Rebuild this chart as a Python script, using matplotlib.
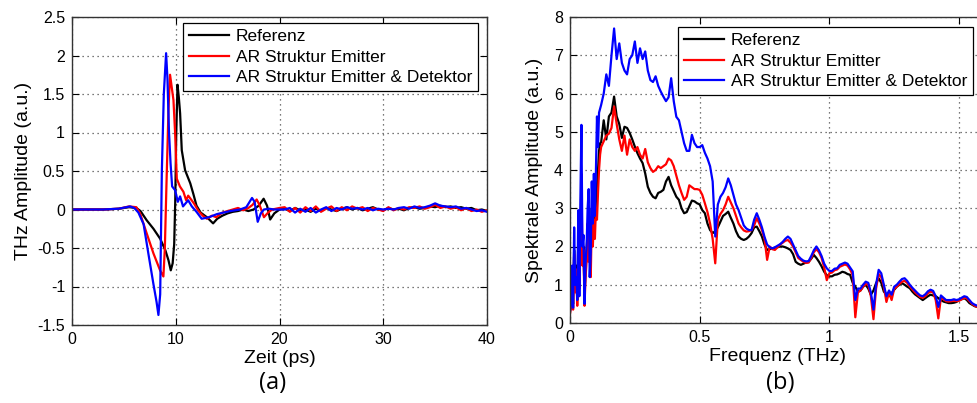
import numpy as np
import matplotlib.pyplot as plt

# ---------------- (a) THz-Zeitsignale ----------------
zeit_ref = [0, 3, 4.5, 5.5, 6.2, 6.6, 7.2, 7.85, 8.5, 9.0, 9.3, 9.52, 9.7, 9.85, 9.95,
            10.05, 10.17, 10.3, 10.42, 10.58, 10.9, 11.4, 11.7, 12.0, 12.4, 13.0, 13.6,
            14.0, 14.5, 15.0, 15.5, 16.0, 16.5, 17.0, 17.5, 18.0, 18.47, 18.8, 19.1, 19.5, 20.0]
amp_ref = [0, 0, 0.01, 0.03, 0.02, -0.02, -0.14, -0.25, -0.38, -0.53, -0.66, -0.79, -0.7, -0.45, 0.1,
           1.0, 1.62, 1.45, 1.25, 0.77, 0.51, 0.34, 0.2, 0.05, -0.04, -0.1, -0.18,
           -0.12, -0.08, -0.05, -0.03, -0.02, 0.0, -0.02, 0.0, 0.05, 0.14, 0.05, -0.13, -0.05, 0.0]

zeit_em = [0, 3, 4.5, 5.5, 6.2, 6.56, 7.2, 7.85, 8.49, 8.81, 8.95, 9.1, 9.3, 9.45, 9.78,
           9.94, 10.1, 10.4, 10.74, 11.0, 11.2, 11.75, 12.2, 12.6, 13.0, 13.5, 13.9,
           14.5, 15.0, 15.5, 16.0, 16.5, 17.0, 17.4, 17.8, 18.1, 18.5, 18.9, 19.3, 20.0]
amp_em = [0, 0, 0.01, 0.04, 0.03, -0.05, -0.31, -0.57, -0.79, -0.87, -0.5, 0.3, 1.3, 1.75, 1.42,
          0.99, 0.4, 0.3, 0.23, 0.12, 0.18, 0.08, -0.02, -0.08, -0.12, -0.08, -0.1,
          -0.04, -0.02, 0.0, 0.02, -0.01, 0.02, 0.06, 0.13, 0.05, -0.1, -0.04, 0.0, 0.02]

zeit_ed = [0, 3, 4.5, 5.6, 6.0, 6.4, 6.9, 7.37, 7.85, 8.15, 8.33, 8.5, 8.66, 8.85, 9.07,
           9.2, 9.35, 9.5, 9.65, 9.94, 10.2, 10.42, 10.7, 11.2, 11.55, 12.0, 12.5,
           13.2, 13.97, 14.6, 15.25, 16.2, 16.8, 17.35, 17.6, 17.9, 18.2, 18.5, 19.0, 19.5, 20.0]
amp_ed = [0, 0, 0.01, 0.04, 0.02, -0.04, -0.19, -0.58, -0.97, -1.2, -1.37, -1.1, 0.5, 1.5, 2.03,
          1.7, 1.0, 0.6, 0.3, 0.25, 0.1, 0.17, 0.04, 0.12, 0.04, -0.03, -0.12,
          -0.1, -0.06, -0.04, -0.02, 0.0, 0.03, 0.15, 0.1, -0.16, -0.05, 0.0, 0.01, 0.0, 0.0]

# Ausklingen 20.5 ... 40 ps (alle 0.5 ps)
zeit_rest = np.arange(20.5, 40.01, 0.5)
rest_ref = [0.01, -0.02, 0.02, -0.01, 0.0, -0.03, 0.01, -0.02, 0.02, 0.0,
            -0.02, 0.01, 0.03, 0.0, 0.02, -0.01, 0.01, 0.03, 0.0, -0.01,
            0.02, 0.0, 0.01, -0.01, 0.02, 0.03, 0.01, 0.02, 0.04, 0.03,
            0.05, 0.03, 0.04, 0.02, 0.03, 0.01, 0.02, -0.01, 0.0, -0.02]
rest_em = [0.03, -0.03, 0.02, -0.04, 0.03, -0.02, 0.04, -0.03, 0.01, 0.04,
           -0.02, 0.03, -0.01, 0.04, 0.01, 0.03, -0.02, 0.02, 0.0, -0.02,
           0.03, -0.01, 0.02, 0.0, 0.03, 0.02, 0.04, 0.01, 0.03, 0.06,
           0.02, 0.04, 0.01, 0.03, -0.01, 0.02, -0.02, 0.0, -0.03, -0.01]
rest_ed = [0.0, 0.02, -0.04, 0.01, -0.03, 0.02, -0.04, 0.0, 0.03, -0.02,
           0.02, 0.0, 0.03, 0.01, 0.02, 0.0, 0.02, -0.01, 0.01, 0.0,
           0.01, 0.0, 0.02, 0.03, 0.01, 0.04, 0.02, 0.03, 0.05, 0.08,
           0.05, 0.04, 0.03, 0.04, 0.01, 0.02, 0.0, -0.02, -0.01, -0.03]

# ---------------- (b) Spektren ----------------
frequenz = np.concatenate([np.arange(30) * 0.004, 0.12 + np.arange(149) * 0.01])

spek_ref = [
    1.0, 0.6, 1.3, 0.5, 1.9, 0.9, 1.5, 0.6, 2.2, 1.0,
    2.3, 3.0, 1.8, 2.0, 0.7, 1.4, 1.9, 2.5, 1.8, 2.6,
    2.0, 3.0, 2.4, 3.47, 2.7, 3.2, 3.6, 4.0, 4.5, 4.7,
    4.72, 5.3, 4.8, 5.4, 5.5, 5.92, 5.4, 5.2, 4.84, 5.13,   # 0.12-0.21
    5.1, 4.97, 4.8, 4.61, 4.44, 4.3, 4.18, 3.91, 3.56, 3.4,
    3.3, 3.26, 3.4, 3.43, 3.48, 3.7, 3.82, 3.6, 3.45, 3.3,
    3.22, 3.0, 2.87, 2.9, 3.05, 3.2, 3.18, 3.13, 3.1, 2.95,
    2.87, 2.6, 2.43, 2.35, 2.4, 2.5, 2.65, 2.8, 2.85, 2.91,  # 0.52-0.61
    2.75, 2.6, 2.4, 2.26, 2.2, 2.17, 2.2, 2.26, 2.35, 2.5,
    2.52, 2.4, 2.26, 2.05, 1.91, 1.93, 1.95, 1.97, 1.98, 2.0,
    2.0, 1.98, 1.95, 1.91, 1.8, 1.6, 1.55, 1.52, 1.55, 1.58,
    1.6, 1.68, 1.78, 1.7, 1.6, 1.48, 1.34, 1.25, 1.22, 1.22,  # 0.92-1.01
    1.26, 1.27, 1.3, 1.34, 1.32, 1.28, 1.26, 1.05, 0.95, 0.82,
    0.85, 0.95, 1.0, 0.9, 0.74, 0.85, 1.04, 1.17, 1.05, 0.82,
    0.75, 0.7, 0.78, 0.87, 0.95, 1.0, 1.04, 1.0, 0.95, 0.91,
    0.82, 0.75, 0.7, 0.65, 0.6, 0.65, 0.7, 0.74, 0.72, 0.7,
    0.65, 0.6, 0.56, 0.54, 0.52, 0.52, 0.53, 0.55, 0.6, 0.62,
    0.65, 0.6, 0.52, 0.48, 0.44, 0.42, 0.4, 0.38, 0.37]

spek_em = [
    0.25, 0.4, 1.2, 0.35, 1.8, 0.8, 1.4, 0.45, 1.6, 0.9,
    2.0, 3.9, 1.5, 1.9, 0.45, 1.2, 1.6, 2.6, 1.6, 2.3,
    1.2, 2.7, 2.0, 2.7, 2.2, 3.0, 2.7, 3.4, 4.0, 4.4,
    4.6, 4.75, 4.9, 4.95, 5.1, 5.66, 5.2, 4.8, 4.5, 4.9,
    4.4, 4.8, 4.6, 4.5, 4.6, 4.4, 4.3, 4.55, 4.2, 4.05,
    3.95, 4.0, 4.1, 4.05, 4.1, 4.15, 4.3, 4.25, 4.1, 3.85,
    3.6, 3.4, 3.22, 3.3, 3.6, 3.55, 3.5, 3.5, 3.48, 3.35,
    3.13, 2.9, 2.6, 2.2, 1.56, 2.7, 2.85, 2.95, 3.1, 3.3,
    3.15, 3.0, 2.8, 2.6, 2.5, 2.42, 2.39, 2.4, 2.43, 2.55,
    2.74, 2.6, 2.43, 2.2, 1.65, 2.0, 1.93, 1.91, 1.98, 2.05,
    2.1, 2.15, 2.17, 2.1, 2.0, 1.85, 1.7, 1.65, 1.6, 1.57,
    1.58, 1.7, 1.85, 1.93, 1.85, 1.7, 1.45, 1.12, 1.3, 1.32,
    1.38, 1.4, 1.47, 1.5, 1.53, 1.5, 1.4, 1.25, 0.15, 0.8,
    0.85, 0.95, 1.02, 1.0, 0.7, 0.1, 0.9, 1.28, 1.2, 0.95,
    0.55, 0.8, 0.6, 0.9, 0.95, 1.02, 1.08, 1.1, 1.05, 0.95,
    0.88, 0.8, 0.74, 0.68, 0.66, 0.7, 0.78, 0.82, 0.8, 0.6,
    0.12, 0.66, 0.62, 0.57, 0.56, 0.57, 0.58, 0.57, 0.58, 0.62,
    0.66, 0.64, 0.57, 0.5, 0.45, 0.42, 0.41, 0.4, 0.38]

spek_ed = [
    0.3, 0.5, 1.5, 0.4, 2.5, 1.0, 1.2, 0.6, 2.95, 0.7,
    3.2, 5.18, 2.0, 2.3, 0.5, 1.6, 2.0, 3.0, 3.5, 1.2,
    1.85, 3.7, 2.6, 3.9, 2.8, 4.0, 5.4, 4.6, 5.5, 5.6,
    5.7, 6.0, 6.5, 6.2, 7.0, 7.7, 6.9, 7.31, 6.8, 6.6,
    6.5, 6.9, 7.0, 7.36, 6.8, 7.18, 6.9, 7.1, 6.6, 6.35,
    6.3, 6.45, 6.2, 6.05, 5.92, 5.8, 5.9, 6.4, 5.8, 5.39,
    5.3, 5.0, 4.7, 4.5, 4.5, 4.92, 4.7, 4.6, 4.6, 4.65,
    4.45, 4.3, 4.1, 3.7, 2.26, 3.1, 3.3, 3.4, 3.55, 3.78,
    3.6, 3.35, 3.1, 2.95, 2.75, 2.55, 2.47, 2.43, 2.43, 2.7,
    2.87, 2.7, 2.5, 2.25, 2.05, 1.98, 1.95, 1.98, 2.02, 2.06,
    2.12, 2.2, 2.26, 2.2, 2.05, 1.9, 1.75, 1.68, 1.63, 1.61,
    1.62, 1.75, 1.9, 2.0, 1.9, 1.75, 1.55, 1.43, 1.36, 1.36,
    1.42, 1.43, 1.52, 1.55, 1.58, 1.55, 1.45, 1.35, 0.6, 0.9,
    0.9, 1.0, 1.08, 1.05, 0.8, 0.35, 1.0, 1.39, 1.3, 1.0,
    0.7, 0.85, 0.74, 0.95, 1.0, 1.08, 1.15, 1.17, 1.1, 1.0,
    0.92, 0.85, 0.78, 0.72, 0.7, 0.75, 0.83, 0.87, 0.84, 0.7,
    0.42, 0.72, 0.66, 0.6, 0.6, 0.6, 0.62, 0.6, 0.62, 0.66,
    0.7, 0.68, 0.6, 0.52, 0.48, 0.45, 0.43, 0.42, 0.4]

namen = ['Referenz', 'AR Struktur Emitter', 'AR Struktur Emitter & Detektor']
farben = ['#000000', '#ff0000', '#0000ff']

plt.rcParams['font.family'] = ['Liberation Sans', 'DejaVu Sans']

W, H = 978, 403
fig = plt.figure(figsize=(W / 100, H / 100), dpi=100)
ax1 = fig.add_axes([72 / W, 1 - 325 / H, 415 / W, 308 / H])
ax2 = fig.add_axes([570 / W, 1 - 323 / H, 415 / W, 306 / H])


def matlab_style(ax):
    ax.grid(True, linestyle=(0, (1, 3)), color='0.3', linewidth=0.9)
    ax.tick_params(direction='in', top=True, right=True, length=5,
                   labelsize=11.5, pad=5, width=0.8)
    for s in ax.spines.values():
        s.set_linewidth(1.0)
        s.set_color('0.2')


# (a)
ax1.plot(np.concatenate([zeit_ref, zeit_rest]), np.concatenate([amp_ref, rest_ref]),
         color=farben[0], lw=1.6, label=namen[0])
ax1.plot(np.concatenate([zeit_em, zeit_rest]), np.concatenate([amp_em, rest_em]),
         color=farben[1], lw=1.6, label=namen[1])
ax1.plot(np.concatenate([zeit_ed, zeit_rest]), np.concatenate([amp_ed, rest_ed]),
         color=farben[2], lw=1.6, label=namen[2])
ax1.set_xlim(0, 40)
ax1.set_ylim(-1.5, 2.5)
ax1.set_xticks([0, 10, 20, 30, 40])
ax1.set_yticks(np.arange(-1.5, 2.51, 0.5))
ax1.set_yticklabels(['-1.5', '-1', '-0.5', '0', '0.5', '1', '1.5', '2', '2.5'])
ax1.set_xlabel('Zeit (ps)', fontsize=14, labelpad=2)
ax1.set_ylabel('THz Amplitude (a.u.)', fontsize=14, labelpad=4)
matlab_style(ax1)

# (b)
for spek, name, farbe in zip([spek_ref, spek_em, spek_ed], namen, farben):
    ax2.plot(frequenz, spek, color=farbe, lw=1.6, label=name)
ax2.set_xlim(0, 1.6)
ax2.set_ylim(0, 8)
ax2.set_xticks([0, 0.5, 1, 1.5])
ax2.set_xticklabels(['0', '0.5', '1', '1.5'])
ax2.set_yticks(range(0, 9))
ax2.set_xlabel('Frequenz (THz)', fontsize=14, labelpad=2)
ax2.set_ylabel('Spektrale Amplitude (a.u.)', fontsize=14, labelpad=8)
matlab_style(ax2)

leg_opts = dict(loc='upper left', fontsize=12.5, handlelength=2.3, frameon=True,
                fancybox=False, edgecolor='black', framealpha=1, borderpad=0.35,
                labelspacing=0.3, handletextpad=0.4, borderaxespad=0,
                bbox_transform=fig.transFigure)
l1 = ax1.legend(bbox_to_anchor=(183 / W, 1 - 23 / H), **leg_opts)
l2 = ax2.legend(bbox_to_anchor=(678 / W, 1 - 27 / H), **leg_opts)
for l in (l1, l2):
    l.get_frame().set_linewidth(0.9)

fig.text(273 / W, 1 - 383 / H, '(a)', ha='center', va='center', fontsize=17,
         family='Open Sans')
fig.text(780 / W, 1 - 383 / H, '(b)', ha='center', va='center', fontsize=17,
         family='Open Sans')

fig.savefig('out.png', dpi=100)
